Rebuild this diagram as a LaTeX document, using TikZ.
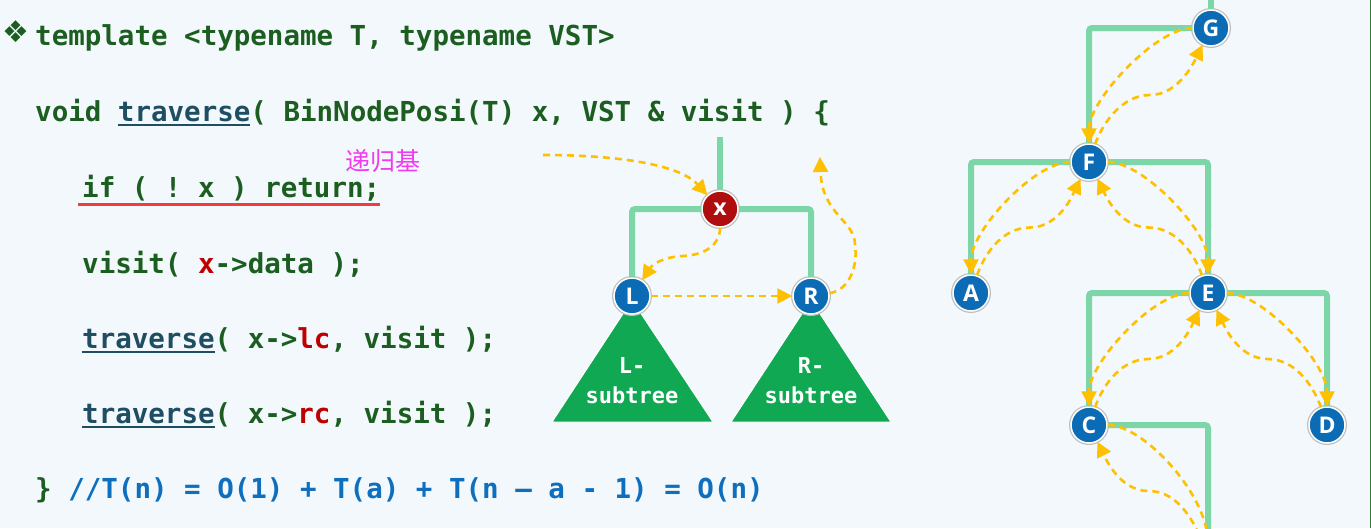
\documentclass[tikz,border=0pt]{standalone}
\usepackage{fontspec}
\setmonofont{DejaVu Sans Mono}
\setsansfont{Open Sans}
\newfontfamily\cjk{Noto Sans CJK SC}
\newfontfamily\dingfont{DejaVu Sans}
\usetikzlibrary{arrows.meta,calc}

\definecolor{bgblue}{HTML}{F3F8FC}
\definecolor{codegreen}{HTML}{1B5E20}
\definecolor{travblue}{HTML}{1F4E63}
\definecolor{codered}{HTML}{C00000}
\definecolor{cmtblue}{HTML}{0E6FBF}
\definecolor{rbmagenta}{HTML}{F03CF0}
\definecolor{ulred}{HTML}{F03C3C}
\definecolor{barmint}{HTML}{7DD6A8}
\definecolor{nodeblue}{HTML}{0B6CB5}
\definecolor{nodered}{HTML}{B00E0E}
\definecolor{treegreen}{HTML}{10A853}
\definecolor{walkyellow}{HTML}{FFC000}
\definecolor{edgegreen}{HTML}{2E7D32}

% underlined function name
\newcommand\travword{{\color{travblue}\setbox0\hbox{traverse}\rlap{\rule[-5pt]{\wd0}{1.8pt}}\box0}}

\begin{document}
\begin{tikzpicture}[x=1pt, y=-1pt,
  code/.style={anchor=base west, inner sep=0pt, text=codegreen,
    font=\ttfamily\bfseries\fontsize{27.5}{33}\selectfont},
  bnode/.style={circle, fill=nodeblue, draw=white, line width=1.5pt,
    minimum size=36pt, inner sep=0pt, text=white,
    font=\sffamily\bfseries\fontsize{23}{23}\selectfont,
    preaction={draw=black!25, line width=4pt}},
  rnode/.style={bnode, fill=nodered},
  bar/.style={draw=barmint, line width=6pt, rounded corners=3pt},
  walk/.style={draw=walkyellow, line width=2.6pt, dash pattern=on 7pt off 5pt,
    -{Triangle[length=15pt,width=15pt]}},
  tri/.style={fill=treegreen, draw=white, line width=1pt, line join=round},
  subtxt/.style={align=center, text=white,
    font=\ttfamily\bfseries\fontsize{22}{30}\selectfont}]

\useasboundingbox (0,0) rectangle (1371,528);
\fill[bgblue] (0,0) rectangle (1371,528);
\clip (0,0) rectangle (1371,528);
\draw[edgegreen, line width=1pt] (1370.5,0) -- (1370.5,528);

% Code
\node[text=codegreen, font=\dingfont\fontsize{30}{30}\selectfont] (bul) at (16,32) {❖};
\node[code] (l1) at (35,45) {template <typename T, typename VST>};
\node[code] (l2) at (35,121) {void \travword( BinNodePosi(T) x, VST \& visit ) \{};
\node[code] (l3) at (82,197) {if ( ! x ) return;};
\node[code] (l4) at (82,273) {visit( {\color{codered}x}->data );};
\node[code] (l5) at (82,348) {\travword( x->{\color{codered}lc}, visit );};
\node[code] (l6) at (82,423) {\travword( x->{\color{codered}rc}, visit );};
\node[code] (l7) at (35,498) {\} {\color{cmtblue}//T(n) = O(1) + T(a) + T(n – a - 1) = O(n)}};

\draw[ulred, line width=3pt] ([xshift=-4pt,yshift=-7pt]l3.base west) -- ([yshift=-7pt]l3.base east);
\node[text=rbmagenta, font=\cjk\fontsize{25}{25}\selectfont] (rbase) at (383,161) {递归基};

% Subtrees
\draw[tri] (632,300) -- (552,422) -- (713,422) -- cycle;
\draw[tri] (811,300) -- (731,422) -- (891,422) -- cycle;
\node[subtxt] (Lsub) at (632,381) {L-\\subtree};
\node[subtxt] (Rsub) at (811,381) {R-\\subtree};

% Node x and its children
\node[rnode] (nx) at (720,209) {x};
\node[bnode] (nL) at (632,296) {L};
\node[bnode] (nR) at (811,296) {R};
\coordinate (xtop) at (720,137);
\draw[bar] (xtop) -- (nx);
\draw[bar] (nx) -| (nL);
\draw[bar] (nx) -| (nR);

\coordinate (callin) at (543,155);
\coordinate (callout) at (820,157);
\draw[walk] (callin) .. controls (620,155) and (680,165) .. (nx);
\draw[walk] (nx) .. controls (720,245) and (705,255) .. (683,256) .. controls (662,257) and (652,265) .. (nL);
\draw[walk] (nL) -- (nR);
\draw[walk] (nR) .. controls (850,290) and (858,265) .. (855,245) .. controls (855,220) and (822,215) .. (callout);

% Tree
\node[bnode] (G) at (1211,28) {G};
\node[bnode] (F) at (1089,162) {F};
\node[bnode] (A) at (971,293) {A};
\node[bnode] (E) at (1208,293) {E};
\node[bnode] (C) at (1089,425) {C};
\node[bnode] (D) at (1327,425) {D};
\coordinate (Gtop) at (1211,0);
\coordinate (Cr) at (1208,557);

\draw[bar] (Gtop) -- (G);
\draw[bar] (G) -| (F);
\draw[bar] (F) -| (A);
\draw[bar] (F) -| (E);
\draw[bar] (E) -| (C);
\draw[bar] (E) -| (D);
\draw[bar] (C) -| (Cr);

\foreach \p/\c in {G/F, F/A, E/C} {
  \draw[walk] (\p) .. controls ($(\p)+(-55,0)$) and ($(\c)+(0,-62)$) .. (\c);
  \draw[walk] (\c) .. controls ($(\c)+(12,-35)$) and ($(\p)!0.5!(\c)+(-30,0)$) .. ($(\p)!0.5!(\c)$)
    .. controls ($(\p)!0.5!(\c)+(30,0)$) and ($(\p)+(-15,30)$) .. (\p);
}
\foreach \p/\c in {F/E, E/D, C/Cr} {
  \draw[walk] (\p) .. controls ($(\p)+(55,0)$) and ($(\c)+(0,-62)$) .. (\c);
  \draw[walk] (\c) .. controls ($(\c)+(-12,-35)$) and ($(\p)!0.5!(\c)+(30,0)$) .. ($(\p)!0.5!(\c)$)
    .. controls ($(\p)!0.5!(\c)+(-30,0)$) and ($(\p)+(15,30)$) .. (\p);
}

\end{tikzpicture}
\end{document}
